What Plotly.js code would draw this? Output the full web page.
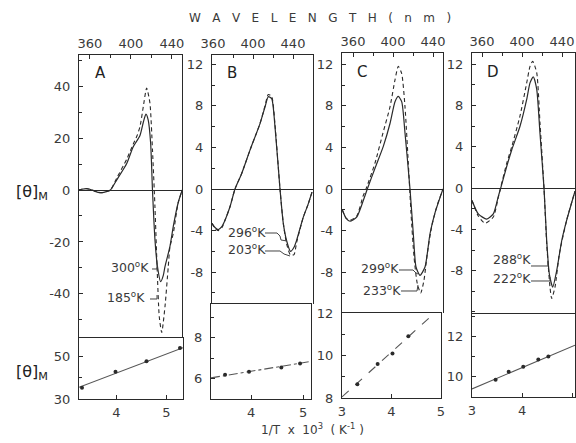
<!DOCTYPE html>
<html><head><meta charset="utf-8">
<script src="https://cdn.plot.ly/plotly-3.0.1.min.js"></script>
<style>html,body{margin:0;padding:0;background:#fff}#g{width:576px;height:443px}</style>
</head><body><div id="g"></div>
<script>
// ---------- DATA ----------
// Panel A (CD spectra, wavelength nm vs [theta]M)
const wlA_300 = [349, 352, 357, 362, 367, 372, 376, 380, 386, 396, 402, 408.8, 412, 414.6, 416.8, 419.2, 421, 423.4, 425.7, 429, 431.5, 433.2, 438, 441.3, 446, 450];
const thA_300 = [0, 0.3, 0.5, 0, -0.8, -1.0, -0.6, 0, 3.8, 10.3, 16.5, 21, 26, 29.2, 27, 18, 0, -19, -29, -35.3, -33, -29.5, -21.8, -14, -5, 0];
const wlA_185 = [349, 352, 357, 362, 367, 372, 376, 380, 386, 396, 402, 406, 408.8, 412, 415.3, 418.5, 421, 423.4, 425.7, 427.6, 430, 433.2, 436.4, 438, 441.3, 446, 450];
const thA_185 = [0, 0.3, 0.5, 0, -0.8, -1.0, -0.6, 0, 4.5, 12, 17.5, 21, 24.4, 32, 39.3, 33.5, 15.4, -6.4, -32, -48.7, -54.9, -44.9, -29.5, -22, -16.7, -5, 0];
// Panel B
const wlB = [359, 362, 365.3, 369, 372, 377, 382, 388.7, 397, 407, 412, 415.3, 418.7, 422, 427, 430.3, 433.7, 437.5, 441, 443.7, 450.3, 455, 459];
const thB_296 = [-3.3, -3.7, -3.9, -3.6, -3.0, -1.7, 0, 1.5, 3.75, 6.3, 7.9, 8.9, 8.7, 6.0, 0, -3.3, -5.0, -6.0, -5.6, -4.9, -2.7, -1.5, -0.3];
const thB_203 = [-3.3, -3.8, -4.0, -3.7, -3.0, -1.7, 0, 1.5, 3.75, 6.3, 8.0, 9.1, 8.9, 6.2, 0, -3.3, -5.3, -6.35, -6.3, -5.1, -2.7, -1.5, -0.3];
// Panel C
const wlC_299 = [349.3, 353, 357, 363.7, 370.3, 374.3, 382, 390.3, 397, 402, 405.3, 408.7, 412, 417, 420.3, 423, 427, 432, 437, 442, 450];
const thC_299 = [-2.0, -2.8, -3.1, -2.7, -1.1, 0, 2.0, 4.1, 6.3, 8.4, 8.9, 8.4, 5.4, 0, -4.3, -7.5, -8.3, -7.5, -4.3, -2.3, 0];
const wlC_233 = [349.3, 353, 357, 363.7, 370, 373, 382, 390, 397, 402, 405.3, 408.7, 412, 415.3, 418, 421, 424.3, 427.7, 431, 434.3, 438.7, 443.7, 450];
const thC_233 = [-2.0, -2.8, -3.0, -2.6, -0.7, 0, 2.5, 5.4, 7.9, 10.5, 11.8, 11.1, 7.9, 2.5, -2.3, -6.5, -9.1, -10.0, -8.75, -6.2, -3.6, -1.7, 0];
// Panel D
const wlD_288 = [350, 356.3, 364.7, 371.3, 376.3, 378.7, 384.7, 389.7, 398, 404.7, 408, 411.3, 414.7, 418, 422, 424.7, 427.3, 430.7, 434.7, 439.7, 444.7, 453];
const thD_288 = [-1.2, -2.5, -3.0, -2.5, -0.8, 0, 2.1, 3.7, 6.0, 8.6, 10.2, 10.8, 9.6, 5.3, 0, -5.1, -8.3, -9.6, -8.0, -5.1, -3.1, -0.3];
const wlD_222 = [350, 356.3, 363, 371.3, 376.3, 378.5, 384.7, 389.7, 398, 404.7, 408, 410.7, 414.7, 418, 422, 424.7, 428, 429.7, 433, 437.3, 444.7, 453];
const thD_222 = [-1.2, -2.7, -3.4, -2.8, -0.9, 0, 2.4, 4.0, 7.0, 10.2, 11.8, 12.3, 11.2, 6.3, 0, -5.4, -9.6, -10.7, -9.6, -6.4, -3.1, -0.3];

// Lower panels: [theta]M vs 1/T x 10^3
const invT_A = [3.31, 3.98, 4.6, 5.27];
const thT_A = [35.3, 43, 48, 54.3];
const fitX_A = [3.25, 5.33];
const fitY_A = [35.6, 54.4];
const invT_B = [3.5, 3.96, 4.58, 4.94];
const thT_B = [6.2, 6.35, 6.55, 6.75];
const fitX_B = [3.23, 5.15];
const fitY_B = [6.05, 6.85];
const invT_C = [3.31, 3.72, 4.02, 4.34];
const thT_C = [8.65, 9.6, 10.1, 10.9];
const fitX_C = [3.0, 4.8];
const fitY_C = [8.05, 11.85];
const invT_D = [3.47, 3.73, 4.02, 4.32, 4.52];
const thT_D = [9.85, 10.25, 10.5, 10.85, 11.0];
const fitX_D = [3.0, 5.05];
const fitY_D = [9.4, 11.56];

const panelLetters = ['A', 'B', 'C', 'D'];
const tempLabels = [['300', '185'], ['296', '203'], ['299', '233'], ['288', '222']];
const wlTicks = [360, 400, 440];
const yTopTicks = [[-40, -20, 0, 20, 40], [-8, -4, 0, 4, 8, 12], [-8, -4, 0, 4, 8, 12], [-8, -4, 0, 4, 8, 12]];
const yBotTicks = [[30, 50], [6, 8], [8, 10, 12], [10, 12]];
const xBotTicks = [[4, 5], [4, 5], [3, 4, 5], [3, 4, 5]];

// ---------- LAYOUT ----------
const W = 576, H = 443;
const INK = '#2a2a2a', TXT = '#3a3a3a';
const FONT = {family: 'DejaVu Sans, sans-serif', size: 13, color: TXT};
const px = v => v / W, py = v => 1 - v / H;

const boxes = [
  {tx: [79, 182], ty: [55, 338], bx: [79, 183], by: [338, 399], xr: [349.3, 449.8], yr: [-57, 52], byr: [30, 59], bxr: [3.25, 5.33], ym: 10, bym: 10},
  {tx: [212, 313], ty: [55, 304], bx: [211, 311], by: [304, 399], xr: [359, 460], yr: [-11.06, 12.9], byr: [5.02, 9.65], bxr: [3.23, 5.15], ym: 2, bym: 1},
  {tx: [342, 443], ty: [53, 313], bx: [342, 441], by: [313, 398], xr: [349, 450], yr: [-11.92, 13.08], byr: [8, 12], bxr: [3, 5], ym: 2, bym: 1},
  {tx: [472, 575], ty: [53, 314], bx: [472, 575], by: [314, 397], xr: [350, 453], yr: [-12.2, 13.1], byr: [9.0, 13.1], bxr: [3, 5.05], ym: 2, bym: 1}
];

const spectra = [
  [[wlA_300, thA_300], [wlA_185, thA_185]],
  [[wlB, thB_296], [wlB, thB_203]],
  [[wlC_299, thC_299], [wlC_233, thC_233]],
  [[wlD_288, thD_288], [wlD_222, thD_222]]
];
const tdep = [
  [invT_A, thT_A, fitX_A, fitY_A, 'solid'],
  [invT_B, thT_B, fitX_B, fitY_B, 'dashdot'],
  [invT_C, thT_C, fitX_C, fitY_C, 'dash'],
  [invT_D, thT_D, fitX_D, fitY_D, 'solid']
];

const data = [];
const layout = {
  width: W, height: H, margin: {l: 0, r: 0, t: 0, b: 0},
  paper_bgcolor: '#fff', plot_bgcolor: 'rgba(0,0,0,0)', showlegend: false,
  font: FONT, annotations: [], shapes: []
};

function axisBase(minorStep, minor0) {
  return {showline: true, linecolor: INK, linewidth: 1, mirror: true, ticks: 'inside', ticklen: 4,
    tickcolor: INK, showgrid: false, zeroline: false, tickfont: FONT, fixedrange: true, tickmode: 'array',
    minor: {dtick: minorStep, tick0: minor0, ticks: 'inside', ticklen: 3, tickcolor: INK, showgrid: false}};
}

boxes.forEach((b, i) => {
  const nt = 2 * i + 1, nb = 2 * i + 2;
  const xt = 'x' + nt, yt = 'y' + nt, xb = 'x' + nb, yb = 'y' + nb;
  data.push({x: spectra[i][0][0], y: spectra[i][0][1], xaxis: xt, yaxis: yt, mode: 'lines',
    line: {color: INK, width: 1.2, shape: 'spline', smoothing: 0.6}});
  data.push({x: spectra[i][1][0], y: spectra[i][1][1], xaxis: xt, yaxis: yt, mode: 'lines',
    line: {color: INK, width: 1.1, dash: '4px,3px', shape: 'spline', smoothing: 0.6}});
  const t = tdep[i];
  data.push({x: t[2], y: t[3], xaxis: xb, yaxis: yb, mode: 'lines', line: {color: '#555', width: 1.1, dash: t[4]}});
  data.push({x: t[0], y: t[1], xaxis: xb, yaxis: yb, mode: 'markers', marker: {color: INK, size: 4, symbol: 'circle'}});

  layout['xaxis' + nt] = Object.assign(axisBase(20, 360), {domain: [px(b.tx[0]), px(b.tx[1])], range: b.xr, anchor: yt,
    side: 'top', mirror: false, tickvals: wlTicks, ticktext: wlTicks.map(String), ticklabelstandoff: 1});
  layout['yaxis' + nt] = Object.assign(axisBase(b.ym, 0), {domain: [py(b.ty[1]), py(b.ty[0])], range: b.yr, anchor: xt,
    tickvals: yTopTicks[i], ticktext: yTopTicks[i].map(String), zeroline: true, zerolinecolor: INK, zerolinewidth: 1, ticklabelstandoff: 5});
  layout['xaxis' + nb] = Object.assign(axisBase(0.5, 3), {domain: [px(b.bx[0]), px(b.bx[1])], range: b.bxr, anchor: yb,
    side: 'bottom', tickvals: xBotTicks[i], ticktext: xBotTicks[i].map(String), ticklabelstandoff: 1});
  layout['xaxis' + nb].minor.ticks = '';
  layout['yaxis' + nb] = Object.assign(axisBase(b.bym, 0), {domain: [py(b.by[1]), py(b.by[0])], range: b.byr, anchor: xb,
    tickvals: yBotTicks[i], ticktext: yBotTicks[i].map(String), ticklabelstandoff: 5});
});

function note(text, x, y, opts) {
  layout.annotations.push(Object.assign({text: text, x: px(x), y: py(y), xref: 'paper', yref: 'paper',
    showarrow: false, font: FONT, xanchor: 'center', yanchor: 'middle'}, opts || {}));
}
function path(pts) {
  let d = '';
  pts.forEach((p, k) => { d += (k ? ' L ' : 'M ') + px(p[0]).toFixed(5) + ' ' + py(p[1]).toFixed(5); });
  layout.shapes.push({type: 'path', path: d, xref: 'paper', yref: 'paper', line: {color: '#444', width: 1}});
}

const nb = '\u00a0';
note(['W', 'A', 'V', 'E', 'L', 'E', 'N', 'G', 'T', 'H', '(', 'n', 'm', ')'].join(nb + nb + nb), 320, 18, {font: Object.assign({}, FONT, {size: 12})});
note('1/T' + nb + nb + 'x' + nb + nb + '10<sup>3</sup>' + nb + nb + '(' + nb + 'K<sup>-1</sup>' + nb + ')', 312, 429, {font: Object.assign({}, FONT, {size: 12})});
note('[θ]<sub>M</sub>', 32, 193, {font: Object.assign({}, FONT, {size: 16, color: '#222'})});
note('[θ]<sub>M</sub>', 32, 372, {font: Object.assign({}, FONT, {size: 16, color: '#222'})});

const letterPos = [[100, 73], [232, 73], [362, 72], [493, 72]];
panelLetters.forEach((L, i) => note(L, letterPos[i][0], letterPos[i][1], {font: Object.assign({}, FONT, {size: 15, color: '#222'})}));

const tempPos = [[[130, 267], [126, 297]], [[247, 232], [247, 249]], [[380, 268], [382, 290]], [[512, 259], [512, 278]]];
tempLabels.forEach((pair, i) => pair.forEach((T, j) =>
  note(T + '<sup>o</sup>K', tempPos[i][j][0], tempPos[i][j][1], {font: Object.assign({}, FONT, {size: 12.5})})));

path([[152, 269], [157, 269], [157, 264]]);
path([[150, 299], [157, 299], [157, 295]]);
path([[265, 233], [277, 233], [280, 236], [281, 240], [287, 241]]);
path([[265, 251], [280, 251], [284, 254], [290, 256]]);
path([[399, 270], [413, 270], [416, 273], [418, 274]]);
path([[401, 291], [417, 291], [418, 285]]);
path([[531, 266], [548, 266], [548, 262]]);
path([[531, 281], [550, 281], [550, 277]]);

Plotly.newPlot('g', data, layout, {staticPlot: true, displayModeBar: false});
</script></body></html>
